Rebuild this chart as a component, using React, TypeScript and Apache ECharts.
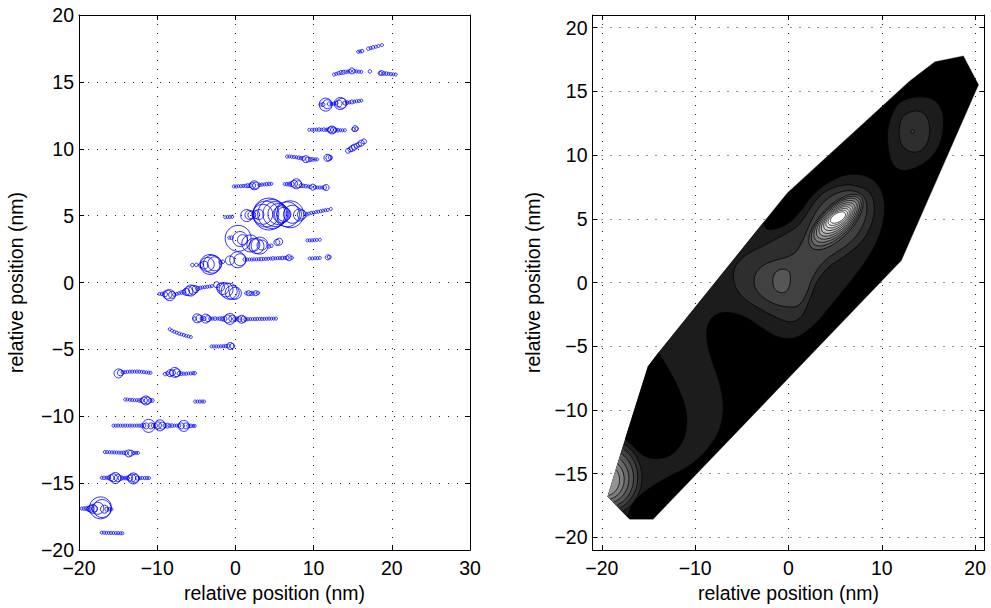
import React, { useEffect, useRef } from "react";
import * as echarts from "echarts";

type Pt = [number, number];
type Dot = [number, number, number]; // x, y, marker diameter (px)
type Ell = [number, number, number, number, number]; // cx, cy, a, b, angle(deg)

// ---------------- LEFT PANEL: scatter rows (x, y, diameter) ----------------
const rowA: Dot[] = [[15.7,17.25,3],[15.95,17.27,3],[16.2,17.3,3.5],[17.0,17.48,3.5],[17.3,17.53,3],[17.6,17.58,3.5],[17.95,17.63,3],[18.3,17.68,3],[18.75,17.75,3]];
const rowB: Dot[] = [[12.6,15.55,3],[12.9,15.6,3],[13.2,15.65,3.5],[13.5,15.7,4],[13.8,15.72,4],[14.1,15.75,3.5],[14.4,15.77,3],[14.65,15.8,3.5],[14.9,15.82,6],[15.2,15.8,3.5],[15.5,15.78,3],[15.8,15.76,3],[16.1,15.75,3],[17.2,15.78,3.5],[18.5,15.65,4],[18.7,15.66,5],[19.0,15.63,3.5],[19.3,15.62,3.5],[19.6,15.6,3],[19.9,15.58,3],[20.2,15.56,3],[20.5,15.55,3]];
const rowC: Dot[] = [[10.9,13.3,3],[11.2,13.3,4],[11.55,13.3,13],[11.75,13.33,9],[12.0,13.35,4],[12.3,13.35,3],[12.6,13.38,3],[12.9,13.4,3.5],[13.2,13.38,7],[13.4,13.38,12],[13.65,13.4,10],[14.0,13.42,4],[14.3,13.45,3.5],[14.6,13.47,3],[14.9,13.5,4],[15.2,13.52,3],[15.5,13.55,3],[15.8,13.57,3],[16.1,13.6,3]];
const rowD: Dot[] = [[9.45,11.42,3],[9.8,11.42,3],[10.1,11.42,3],[10.4,11.43,3],[10.7,11.43,3.5],[11.0,11.43,3],[11.3,11.43,3.5],[11.6,11.42,3],[11.9,11.42,4],[12.15,11.42,6],[12.35,11.4,8],[12.55,11.4,6],[12.8,11.4,4],[13.1,11.38,3.5],[13.4,11.38,3],[13.7,11.38,3],[14.0,11.38,3],[15.1,11.45,3.5],[15.3,11.5,6],[15.5,11.5,3.5]];
const rowE: Dot[] = [[14.4,9.85,5],[14.7,9.95,5],[14.95,10.03,6],[15.2,10.12,6],[15.5,10.22,5],[15.8,10.32,5],[16.1,10.42,6],[16.45,10.55,5]];
const rowF: Dot[] = [[6.6,9.42,3],[6.9,9.42,3],[7.2,9.4,3],[7.5,9.38,3],[7.8,9.36,3],[8.1,9.33,3.5],[8.4,9.3,3.5],[8.7,9.28,4],[9.0,9.22,7],[9.3,9.2,5],[9.6,9.2,4],[9.9,9.2,3.5],[10.2,9.2,3],[10.45,9.2,3],[11.75,9.32,7],[11.95,9.32,6],[12.15,9.34,4]];
const rowG: Dot[] = [[-0.2,7.18,3],[0.1,7.18,3],[0.4,7.2,3],[0.7,7.2,3],[1.0,7.22,3],[1.3,7.22,3.5],[1.6,7.24,4],[1.9,7.25,4],[2.2,7.25,6],[2.4,7.27,9],[2.65,7.25,7],[3.1,7.3,3.5],[3.4,7.32,3],[3.7,7.33,3],[4.0,7.35,3.5],[4.3,7.37,3.5],[4.6,7.38,3],[6.3,7.35,3],[6.6,7.35,3.5],[6.9,7.35,4],[7.2,7.36,5],[7.5,7.38,7],[7.8,7.38,10],[8.05,7.35,7],[8.4,7.25,4],[8.7,7.22,3.5],[9.0,7.2,3.5],[9.3,7.18,3],[9.6,7.15,3.5],[9.9,7.13,6],[10.2,7.12,3.5],[10.5,7.1,3],[10.8,7.1,3],[11.1,7.1,3],[11.4,7.1,4],[11.6,7.1,6]];
const rowH: Dot[] = [[-1.3,4.88,3],[-1.0,4.9,3],[-0.7,4.9,3],[-0.4,4.92,3],[1.45,5.0,12],[1.8,5.05,9],[2.1,5.05,8],[2.6,5.08,8],[3.0,5.08,10],[3.5,5.1,20],[3.9,5.12,26],[4.3,5.12,32],[4.7,5.12,29],[5.1,5.12,25],[5.5,5.12,21],[5.9,5.1,17],[6.2,5.1,14],[6.6,5.1,25],[7.0,5.1,27],[7.3,5.1,18],[8.2,5.05,12],[8.5,5.08,9],[9.1,5.1,3.5],[9.4,5.15,3],[9.7,5.2,3],[10.0,5.22,3],[10.3,5.27,3],[10.6,5.3,3],[10.9,5.33,3],[11.2,5.37,3],[11.5,5.4,3],[11.8,5.43,3],[12.2,5.5,3]];
const rowI: Dot[] = [[-0.8,3.35,3],[-0.5,3.35,3.5],[0.35,3.3,26],[0.6,3.25,15],[0.9,3.2,10],[1.9,2.92,17],[2.3,2.82,13],[2.7,2.72,15],[3.1,2.76,17],[3.4,2.8,10],[4.3,2.7,3.5],[4.6,2.75,3.5],[5.3,3.0,6],[5.6,3.05,7],[9.2,3.15,3],[9.5,3.15,3],[9.8,3.15,3],[10.1,3.17,3],[10.4,3.18,3],[10.8,3.2,3]];
const rowJ: Dot[] = [[-5.5,1.3,3.5],[-5.0,1.32,3.5],[-4.4,1.3,5],[-4.0,1.3,8],[-3.6,1.35,14],[-3.25,1.35,20],[-2.95,1.37,18],[-2.65,1.4,14],[-1.9,1.5,3.5],[-1.6,1.55,3.5],[-0.7,1.65,9],[0.3,1.7,16],[0.6,1.7,12],[1.2,1.72,3.5],[1.5,1.72,3],[1.8,1.72,3],[2.1,1.72,3],[2.4,1.73,3],[2.7,1.73,3],[3.0,1.74,3],[3.3,1.75,3.5],[3.6,1.76,3],[3.9,1.77,3],[4.2,1.78,3],[4.5,1.79,3],[4.8,1.8,3.5],[5.1,1.8,3],[5.4,1.82,3],[5.7,1.82,3],[6.0,1.83,3.5],[6.3,1.84,3],[6.6,1.85,4],[6.85,1.85,6],[7.2,1.85,3.5],[9.5,1.8,3],[9.85,1.8,3],[10.2,1.82,3],[10.5,1.82,3],[10.8,1.84,3],[11.8,1.88,5],[12.0,1.9,4]];
const rowK: Dot[] = [[-9.7,-0.85,3],[-9.4,-0.85,3.5],[-9.0,-0.88,5],[-8.7,-0.9,9],[-8.4,-0.95,11],[-8.1,-0.92,7],[-7.8,-0.9,3.5],[-7.5,-0.85,3],[-7.2,-0.8,3],[-6.9,-0.75,3.5],[-6.6,-0.72,4],[-6.3,-0.7,7],[-6.0,-0.65,9],[-5.7,-0.6,11],[-5.4,-0.55,9],[-5.1,-0.5,7],[-4.8,-0.45,4],[-4.5,-0.4,3.5],[-4.2,-0.37,3],[-3.9,-0.35,3],[-3.6,-0.32,3],[-3.3,-0.3,3],[-3.0,-0.27,3],[-2.4,-0.17,6],[-1.9,-0.35,8],[-1.6,-0.45,12],[-1.2,-0.55,14],[-0.8,-0.65,16],[-0.4,-0.75,14],[0.0,-0.8,12],[1.4,-0.8,3.5],[1.7,-0.8,5],[2.0,-0.82,4],[2.3,-0.82,3.5],[2.6,-0.8,5],[2.9,-0.78,3.5]];
const rowL: Dot[] = [[-5.2,-2.7,3.5],[-4.9,-2.68,9],[-4.6,-2.68,7],[-4.3,-2.7,3.5],[-4.0,-2.7,4],[-3.8,-2.7,9],[-3.5,-2.7,6],[-3.2,-2.7,3.5],[-2.9,-2.7,3],[-2.6,-2.7,3.5],[-2.3,-2.7,3],[-2.0,-2.7,3.5],[-1.7,-2.72,4],[-1.4,-2.72,5],[-1.0,-2.72,8],[-0.7,-2.72,11],[-0.4,-2.7,7],[-0.1,-2.72,4],[0.2,-2.72,4],[0.5,-2.74,5],[0.8,-2.75,8],[1.05,-2.75,6],[1.3,-2.75,3.5],[1.6,-2.75,3],[1.9,-2.74,3],[2.2,-2.74,3],[2.5,-2.73,3],[2.8,-2.73,3],[3.1,-2.72,3],[3.4,-2.72,3],[3.7,-2.72,3],[4.0,-2.71,3],[4.3,-2.7,3],[4.6,-2.7,3],[4.9,-2.7,3],[5.2,-2.7,3]];
const rowM: Dot[] = [[-8.4,-3.5,3],[-8.1,-3.6,3],[-7.8,-3.68,3],[-7.5,-3.75,3],[-7.2,-3.82,3],[-6.9,-3.88,3],[-6.6,-3.93,3],[-6.3,-3.98,3],[-6.0,-4.03,3],[-5.7,-4.08,3]];
const rowN: Dot[] = [[-3.05,-4.78,3],[-2.75,-4.78,3],[-2.45,-4.78,3],[-2.15,-4.78,3],[-1.85,-4.77,3],[-1.55,-4.77,3],[-1.25,-4.76,3.5],[-0.95,-4.75,4],[-0.65,-4.75,7],[-0.4,-4.75,5]];
const rowO: Dot[] = [[-14.95,-6.8,9],[-14.7,-6.75,6],[-14.4,-6.72,3.5],[-14.1,-6.7,3],[-13.8,-6.68,3],[-13.5,-6.67,3],[-13.2,-6.66,3],[-12.9,-6.66,3],[-12.6,-6.66,3],[-12.3,-6.66,3],[-12.0,-6.68,3],[-11.7,-6.7,3],[-11.4,-6.72,3],[-11.1,-6.74,3],[-10.85,-6.75,3],[-9.0,-6.85,3.5],[-8.7,-6.8,3.5],[-8.35,-6.78,7],[-8.05,-6.75,6],[-7.75,-6.72,10],[-7.5,-6.75,8],[-7.2,-6.8,4],[-6.9,-6.82,3.5],[-6.6,-6.82,3],[-6.3,-6.82,3],[-6.0,-6.8,3],[-5.7,-6.8,3],[-5.4,-6.78,3],[-5.2,-6.78,3.5]];
const rowP: Dot[] = [[-14.1,-8.75,3],[-13.8,-8.75,3],[-13.5,-8.77,3],[-13.2,-8.78,3],[-12.9,-8.8,3],[-12.6,-8.8,3],[-12.3,-8.82,3.5],[-12.0,-8.82,4],[-11.7,-8.82,7],[-11.45,-8.82,9],[-11.2,-8.82,7],[-10.9,-8.82,4],[-10.6,-8.82,3.5],[-5.15,-8.9,3],[-4.85,-8.9,3],[-4.55,-8.9,3],[-4.25,-8.9,3],[-4.0,-8.9,3]];
const rowQ: Dot[] = [[-15.6,-10.7,3],[-15.3,-10.7,3],[-15.0,-10.7,3],[-14.7,-10.7,3],[-14.4,-10.7,3],[-14.1,-10.7,3],[-13.8,-10.7,3],[-13.5,-10.7,3],[-13.2,-10.7,3],[-12.9,-10.7,3],[-12.6,-10.7,3],[-12.3,-10.7,3],[-12.0,-10.7,3.5],[-11.7,-10.7,4],[-11.4,-10.72,6],[-11.1,-10.72,13],[-10.8,-10.72,6],[-10.5,-10.7,4],[-10.2,-10.7,4],[-9.9,-10.68,7],[-9.65,-10.68,11],[-9.35,-10.7,7],[-9.0,-10.7,4],[-8.7,-10.7,5],[-8.4,-10.7,3.5],[-8.1,-10.7,3.5],[-7.8,-10.7,3],[-7.5,-10.7,3],[-7.2,-10.7,3.5],[-6.9,-10.72,6],[-6.6,-10.72,11],[-6.3,-10.72,6],[-6.0,-10.72,3.5],[-5.7,-10.72,3.5],[-5.4,-10.72,3],[-5.2,-10.72,3]];
const rowR: Dot[] = [[-16.7,-12.68,3],[-16.4,-12.68,3],[-16.1,-12.69,3],[-15.8,-12.7,3],[-15.5,-12.7,3],[-15.2,-12.71,3],[-14.9,-12.72,3],[-14.6,-12.72,3],[-14.3,-12.73,3.5],[-14.0,-12.75,4],[-13.65,-12.78,7],[-13.35,-12.76,6],[-13.0,-12.75,3.5],[-12.7,-12.74,3],[-12.45,-12.74,3]];
const rowS: Dot[] = [[-17.1,-14.6,3],[-16.8,-14.6,3.5],[-16.5,-14.6,3],[-16.2,-14.6,4],[-15.9,-14.6,6],[-15.6,-14.6,8],[-15.35,-14.62,11],[-15.05,-14.62,7],[-14.7,-14.62,5],[-14.4,-14.62,3.5],[-14.1,-14.62,3.5],[-13.8,-14.62,4],[-13.5,-14.62,6],[-13.25,-14.62,8],[-13.05,-14.65,11],[-12.8,-14.65,8],[-12.5,-14.63,4],[-12.2,-14.63,3],[-11.9,-14.62,3],[-11.6,-14.62,3],[-11.3,-14.62,3],[-11.05,-14.62,3]];
const rowT: Dot[] = [[-19.65,-16.9,3],[-19.35,-16.9,3.5],[-19.05,-16.9,4],[-18.75,-16.92,5],[-18.5,-16.92,7],[-18.25,-16.92,9],[-18.0,-16.92,6],[-17.6,-16.88,12],[-17.25,-16.85,22],[-17.05,-16.9,18],[-16.75,-16.95,8],[-16.45,-16.95,4],[-16.15,-16.95,3.5],[-15.85,-16.95,3]];
const rowU: Dot[] = [[-17.1,-18.7,3],[-16.8,-18.7,3],[-16.5,-18.72,3],[-16.2,-18.72,3],[-15.9,-18.72,3],[-15.6,-18.73,3],[-15.3,-18.74,3],[-15.0,-18.74,3],[-14.7,-18.75,3],[-14.45,-18.75,3]];

const scatterRows: Dot[][] = [rowA,rowB,rowC,rowD,rowE,rowF,rowG,rowH,rowI,rowJ,rowK,rowL,rowM,rowN,rowO,rowP,rowQ,rowR,rowS,rowT,rowU];

// ---------------- RIGHT PANEL: filled contour regions ----------------
const hull: Pt[] = [[-19.35,-16.82],[-17.02,-18.58],[-14.5,-18.58],[12.09,1.73],[20.36,15.52],[18.74,17.79],[15.69,17.33],[12.99,15.82],[-0.13,7.03],[-13.96,-5.55],[-15.04,-6.6],[-17.38,-12.06]];

const levelColors: string[] = ["#000000","#1c1c1c","#2e2e2e","#414141","#565656","#6a6a6a","#7f7f7f","#939393","#a8a8a8","#bcbcbc","#d1d1d1","#e5e5e5","#f4f4f4","#ffffff"];

const level1Main: Pt[] = [[-8,8.5],[-3.2,6.8],[-2.7,4.1],[-1.2,4.2],[0.2,4.7],[1.3,5.6],[2.6,6.95],[4.4,7.95],[6.3,8.55],[8.3,8.45],[9.7,7.7],[10.3,6.5],[10.3,5.2],[9.8,3.7],[8.7,2.1],[7.0,0.4],[5.0,-1.4],[3.0,-3.2],[1.0,-4.4],[-1.0,-4.4],[-2.8,-3.6],[-4.3,-2.8],[-5.8,-2.4],[-7.2,-2.3],[-8.4,-2.8],[-8.9,-4.0],[-8.4,-5.8],[-7.5,-7.5],[-6.9,-9.5],[-7.2,-11.4],[-8.5,-13.0],[-10.5,-14.4],[-13.0,-15.3],[-15.3,-16.3],[-16.7,-17.3],[-17.2,-18.2],[-17.6,-19.8],[-21.5,-21.5],[-21.5,-2]];
const level0Lobe: Pt[] = [[-14.6,-4.6],[-13.7,-5.8],[-12.7,-7.0],[-11.8,-8.3],[-11.1,-9.6],[-10.85,-10.8],[-11.1,-12.2],[-12.3,-13.5],[-14.0,-13.9],[-15.6,-13.65],[-17.2,-12.4],[-18.5,-11.8],[-20,-8]];
const level2Main: Pt[] = [[-5.9,1.2],[-5.9,-0.2],[-4.8,-1.3],[-3.0,-2.1],[-1.2,-2.8],[0.3,-3.2],[1.5,-2.7],[2.3,-1.3],[3.0,0.1],[4.2,1.2],[5.9,2.0],[7.7,3.0],[8.9,4.4],[9.3,5.9],[8.8,7.2],[6.7,7.75],[4.8,7.5],[3.3,6.85],[2.2,5.7],[1.1,4.4],[-0.6,3.7],[-2.5,2.95],[-4.6,2.2]];
const level3Main: Pt[] = [[-2.3,1.6],[-3.6,0.8],[-3.75,-0.25],[-3.0,-1.05],[-1.6,-1.7],[-0.1,-1.95],[1.1,-1.9],[1.9,-1.0],[2.5,0.3],[3.4,1.4],[4.7,2.2],[6.3,2.9],[7.6,3.9],[8.4,5.2],[8.4,6.5],[7.5,7.15],[6.1,7.25],[4.6,6.85],[3.3,6.0],[2.3,4.7],[1.5,3.2],[0.6,2.1]];
const level4Sub: Pt[] = [[-1.75,0.3],[-1.3,0.95],[-0.35,1.1],[0.25,0.75],[0.15,-0.4],[-0.55,-0.9],[-1.55,-0.6]];
const mainPeakRings: Ell[] = [[5.08,4.75,3.35,1.42,33],[5.12,4.82,3.05,1.28,32],[5.16,4.88,2.75,1.16,31],[5.18,4.92,2.45,1.04,30],[5.2,4.95,2.15,0.92,29],[5.22,4.98,1.88,0.8,28],[5.24,5.02,1.6,0.69,26],[5.26,5.05,1.35,0.58,24],[5.28,5.08,1.1,0.47,22],[5.3,5.1,0.85,0.36,20]];
const mainPeakLevels: number[] = [4,5,6,7,8,9,10,11,12,13];
const level1TopRight: Pt[] = [[10.72,12.56],[11.62,14.1],[13.4,14.62],[15.54,14.5],[16.61,13.46],[16.61,11.78],[15.9,10.23],[14.1,9.07],[11.97,8.68],[10.9,9.46],[10.55,11.26]];
const level2TopRight: Pt[] = [[11.79,12.04],[12.15,13.07],[13.4,13.53],[14.65,13.33],[15.19,12.29],[15.0,11.0],[14.12,10.23],[12.86,10.23],[11.97,10.87]];
const level3TopRight: Ell = [13.3,11.85,0.18,0.14,0];
const cornerRings: Ell[] = [[-19.5,-15.3,3.8,3.0,0],[-19.5,-15.3,3.35,2.65,0],[-19.5,-15.35,2.9,2.3,0],[-19.55,-15.4,2.45,1.95,0],[-19.6,-15.45,2.0,1.6,0],[-19.65,-15.5,1.55,1.25,0]];
const cornerLevels: number[] = [2,3,4,5,6,7];

const leftXTicks = [-20,-10,0,10,20,30];
const leftYTicks = [-20,-15,-10,-5,0,5,10,15,20];
const rightXTicks = [-20,-10,0,10,20];
const rightYTicks = [-20,-15,-10,-5,0,5,10,15,20];

// ---------------- geometry helpers ----------------
function smooth(pts: Pt[], iters = 3): Pt[] {
  let p = pts;
  for (let k = 0; k < iters; k++) {
    const q: Pt[] = [];
    for (let i = 0; i < p.length; i++) {
      const a = p[i], b = p[(i + 1) % p.length];
      q.push([0.75 * a[0] + 0.25 * b[0], 0.75 * a[1] + 0.25 * b[1]]);
      q.push([0.25 * a[0] + 0.75 * b[0], 0.25 * a[1] + 0.75 * b[1]]);
    }
    p = q;
  }
  return p;
}
function ellipse(e: Ell, n = 120): Pt[] {
  const [cx, cy, a, b, deg] = e;
  const t = (deg * Math.PI) / 180, c = Math.cos(t), s = Math.sin(t);
  const out: Pt[] = [];
  for (let i = 0; i < n; i++) {
    const u = (2 * Math.PI * i) / n;
    const x = a * Math.cos(u), y = b * Math.sin(u);
    out.push([cx + x * c - y * s, cy + x * s + y * c]);
  }
  return out;
}
function side(a: Pt, b: Pt, p: Pt) { return (b[0] - a[0]) * (p[1] - a[1]) - (b[1] - a[1]) * (p[0] - a[0]); }
function clipToHull(subject: Pt[]): Pt[] {
  let out = subject;
  for (let i = 0; i < hull.length; i++) {
    const a = hull[i], b = hull[(i + 1) % hull.length];
    const inp = out; out = [];
    if (!inp.length) break;
    for (let j = 0; j < inp.length; j++) {
      const p = inp[j], q = inp[(j + 1) % inp.length];
      const sp = side(a, b, p), sq = side(a, b, q);
      if (sp >= 0) out.push(p);
      if ((sp >= 0) !== (sq >= 0)) {
        const t = sp / (sp - sq);
        out.push([p[0] + t * (q[0] - p[0]), p[1] + t * (q[1] - p[1])]);
      }
    }
  }
  return out;
}
function insideHull(p: Pt) {
  for (let i = 0; i < hull.length; i++) if (side(hull[i], hull[(i + 1) % hull.length], p) < -1e-9) return false;
  return true;
}
function lineRuns(ring: Pt[]): Pt[][] {
  const n = ring.length, ins = ring.map(insideHull);
  if (ins.every(Boolean)) return [[...ring, ring[0]]];
  const start = ins.indexOf(false);
  const res: Pt[][] = []; let cur: Pt[] = [];
  for (let k = 1; k <= n; k++) {
    const i = (start + k) % n;
    if (ins[i]) cur.push(ring[i]); else { if (cur.length > 1) res.push(cur); cur = []; }
  }
  if (cur.length > 1) res.push(cur);
  return res;
}

type Region = { fill: Pt[]; runs: Pt[][]; color: string };
function region(ring: Pt[], level: number, stroke = true): Region {
  return { fill: clipToHull(ring), runs: stroke ? lineRuns(ring) : [], color: levelColors[level] };
}
function buildRegions(): Region[] {
  const r: Region[] = [];
  r.push(region(hull, 0, false));
  r.push(region(smooth(level1Main), 1));
  r.push(region(smooth(level0Lobe), 0));
  cornerRings.forEach((e, i) => r.push(region(ellipse(e), cornerLevels[i])));
  r.push(region(smooth(level1TopRight), 1));
  r.push(region(smooth(level2TopRight), 2));
  r.push(region(ellipse(level3TopRight, 24), 3));
  r.push(region(smooth(level2Main), 2));
  r.push(region(smooth(level3Main), 3));
  r.push(region(smooth(level4Sub), 4));
  mainPeakRings.forEach((e, i) => r.push(region(ellipse(e), mainPeakLevels[i])));
  return r;
}

const fontFamily = "'Liberation Sans', Arial, Helvetica, sans-serif";
const fs = 19.5;
const fmt = (v: number) => (v < 0 ? "\u2212" + Math.abs(v) : String(v));

function makeAxis(kind: "x" | "y", gridIndex: number, min: number, max: number, ticks: number[], main: boolean, yNameGap = 50, interval?: number) {
  const ax: any = {
    type: "value",
    gridIndex, min, max,
    position: kind === "x" ? (main ? "bottom" : "top") : (main ? "left" : "right"),
    axisLine: { show: true, onZero: false, lineStyle: { color: "#000", width: 1 } },
    axisTick: { show: true, inside: true, length: 5, customValues: ticks, lineStyle: { color: "#000", width: 1 } },
    axisLabel: { show: main, customValues: ticks, formatter: fmt, margin: kind === "x" ? 8 : 5, color: "#000", fontSize: fs, fontFamily },
    splitLine: { show: main, lineStyle: { color: "#222", width: 1, type: [1, 8] } },
    name: main ? "relative position (nm)" : "",
    nameLocation: "middle",
    nameGap: kind === "x" ? 33 : yNameGap,
    nameTextStyle: { color: "#000", fontSize: fs, fontFamily },
  };
  if (interval) ax.interval = interval;
  return ax;
}

export default function App() {
  const ref = useRef<HTMLDivElement>(null);
  useEffect(() => {
    document.body.style.margin = "0";
    const chart = echarts.init(ref.current!, null, { renderer: "svg" });
    const regions = buildRegions();
    const dots: Dot[] = ([] as Dot[]).concat(...scatterRows);
    chart.setOption({
      animation: false,
      backgroundColor: "#ffffff",
      grid: [
        { left: 79, top: 15, width: 391, height: 540 },
        { left: 592.5, top: 15, width: 392, height: 540 },
      ],
      xAxis: [
        makeAxis("x", 0, -20, 30, leftXTicks, true, 50, 10),
        makeAxis("x", 0, -20, 30, leftXTicks, false, 50, 10),
        makeAxis("x", 1, -21, 21, rightXTicks, true),
        makeAxis("x", 1, -21, 21, rightXTicks, false),
      ],
      yAxis: [
        makeAxis("y", 0, -20, 20, leftYTicks, true, 53, 5),
        makeAxis("y", 0, -20, 20, leftYTicks, false, 53, 5),
        makeAxis("y", 1, -21, 21, rightYTicks, true, 50),
        makeAxis("y", 1, -21, 21, rightYTicks, false, 50),
      ],
      series: [
        {
          type: "scatter",
          xAxisIndex: 0,
          yAxisIndex: 0,
          silent: true,
          symbol: "circle",
          symbolSize: (v: number[]) => v[2],
          itemStyle: { color: "rgba(0,0,0,0)", borderColor: "#0000ff", borderWidth: 1 },
          data: dots,
          z: 3,
        },
        {
          type: "custom",
          xAxisIndex: 2,
          yAxisIndex: 2,
          silent: true,
          data: regions.map(() => [0, 0]),
          renderItem: (params: any, api: any) => {
            const reg = regions[params.dataIndex];
            const children: any[] = [];
            if (reg.fill.length >= 3) {
              children.push({
                type: "polygon",
                shape: { points: reg.fill.map((p) => api.coord(p)) },
                style: { fill: reg.color, stroke: reg.color, lineWidth: 0.3 },
              });
            }
            reg.runs.forEach((run) => {
              children.push({
                type: "polyline",
                shape: { points: run.map((p) => api.coord(p)) },
                style: { stroke: "#000", lineWidth: 0.8, fill: "none" },
              });
            });
            return { type: "group", children };
          },
          z: 2,
        },
      ],
    });
    return () => chart.dispose();
  }, []);
  return <div ref={ref} style={{ width: 991, height: 608 }} />;
}
